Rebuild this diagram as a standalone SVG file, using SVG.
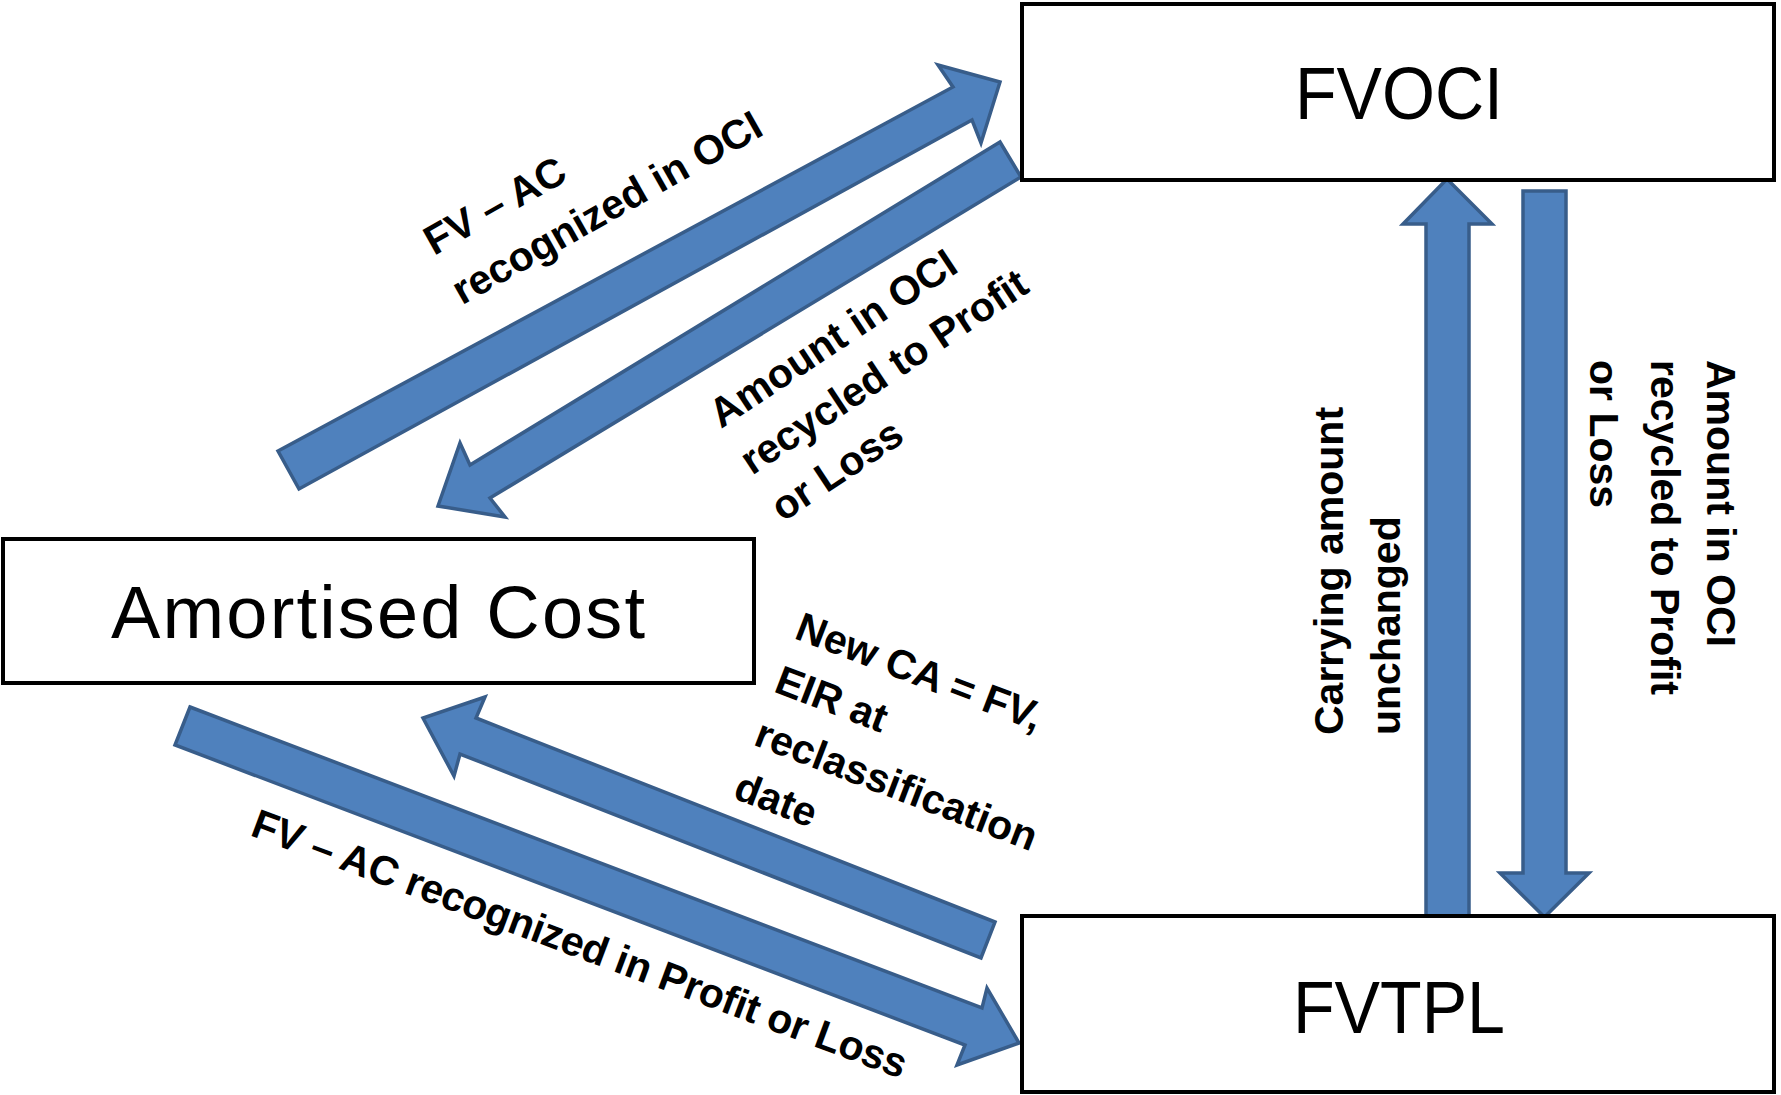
<svg xmlns="http://www.w3.org/2000/svg" width="1781" height="1095" viewBox="0 0 1781 1095">
  <style>
    .box { fill: #ffffff; stroke: #000000; stroke-width: 4; }
    .box-label { font-family: "Liberation Sans", Arial, sans-serif; font-size: 74px; fill: #000000; text-anchor: middle; }
    .arrow { fill: #4f81bd; stroke: #385d8a; stroke-width: 3.5; stroke-linejoin: miter; }
    .edge-label { font-family: "Liberation Sans", Arial, sans-serif; font-size: 41px; font-weight: bold; fill: #000000; }
  </style>
  <rect width="1781" height="1095" fill="#ffffff"/>

  <!-- block arrows between the three categories -->
  <g id="connectors">
    <!-- Amortised Cost -> FVOCI -->
    <polygon class="arrow" points="278,451 953,87 938,65 1000,82 981,143 972,120 299,489"/>
    <!-- FVOCI -> Amortised Cost -->
    <polygon class="arrow" points="1000,142 470,465 460,443 438,506 505,517 490,498 1021,177"/>
    <!-- Amortised Cost -> FVTPL -->
    <polygon class="arrow" points="190,707 982,1008 987,988 1019,1043 957,1065 965,1045 175,745"/>
    <!-- FVTPL -> Amortised Cost -->
    <polygon class="arrow" points="995,922 476,718 485,697 423,718 454,776 460,754 981,958"/>
    <!-- FVTPL -> FVOCI -->
    <polygon class="arrow" points="1426,917 1426,224 1403,224 1447,179 1492,224 1469,224 1469,917"/>
    <!-- FVOCI -> FVTPL -->
    <polygon class="arrow" points="1523,191 1566,191 1566,873 1589,873 1544.5,917 1500,873 1523,873"/>
  </g>

  <!-- connector labels -->
  <g id="labels">
    <text class="edge-label" transform="translate(434,256) rotate(-29.5)">
      <tspan x="0" y="0">FV – AC</tspan>
      <tspan x="0" y="57">recognized in OCI</tspan>
    </text>
    <text class="edge-label" transform="translate(721,429) rotate(-33.5)">
      <tspan x="0" y="0">Amount in OCI</tspan>
      <tspan x="0" y="56">recycled to Profit</tspan>
      <tspan x="0" y="112">or Loss</tspan>
    </text>
    <text class="edge-label" transform="translate(793,638) rotate(21)">
      <tspan x="0" y="0">New CA = FV,</tspan>
      <tspan x="0" y="57">EIR at</tspan>
      <tspan x="0" y="114">reclassification</tspan>
      <tspan x="0" y="171">date</tspan>
    </text>
    <text class="edge-label" transform="translate(249,835) rotate(20.5)" font-size="40" textLength="696">FV – AC recognized in Profit or Loss</text>
    <text class="edge-label" transform="translate(1343,735) rotate(-90)">
      <tspan x="0" y="0">Carrying amount</tspan>
      <tspan x="0" y="57">unchanged</tspan>
    </text>
    <text class="edge-label" transform="translate(1707,360) rotate(90)">
      <tspan x="0" y="0">Amount in OCI</tspan>
      <tspan x="0" y="56">recycled to Profit</tspan>
      <tspan x="0" y="117">or Loss</tspan>
    </text>
  </g>

  <!-- category boxes -->
  <g id="node-fvoci">
    <rect class="box" x="1022" y="4" width="752" height="176"/>
    <text class="box-label" x="1399" y="119" textLength="208" lengthAdjust="spacingAndGlyphs">FVOCI</text>
  </g>
  <g id="node-amortised-cost">
    <rect class="box" x="3" y="539" width="751" height="144"/>
    <text class="box-label" x="378" y="638" textLength="534">Amortised Cost</text>
  </g>
  <g id="node-fvtpl">
    <rect class="box" x="1022" y="916" width="752" height="176"/>
    <text class="box-label" x="1399" y="1033" textLength="212" lengthAdjust="spacingAndGlyphs">FVTPL</text>
  </g>
</svg>
